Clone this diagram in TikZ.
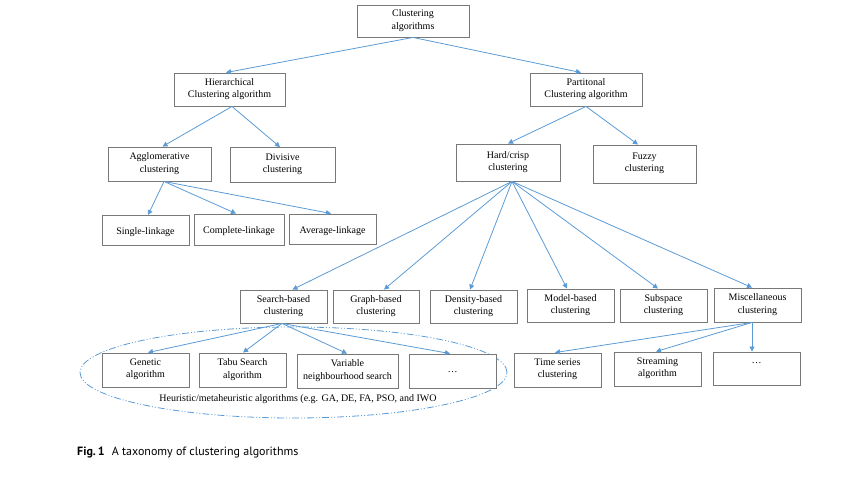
\documentclass[tikz,border=0pt]{standalone}
\usepackage{fontspec}
\setmainfont{Liberation Serif}
\newfontfamily\capfont{PT Sans}
\usetikzlibrary{arrows.meta,shapes.geometric}
\definecolor{arr}{RGB}{91,155,213}
\definecolor{bord}{RGB}{120,120,120}
\tikzset{
  x=1pt,y=-1pt,
  box/.style={draw=bord,line width=0.9pt,fill=white,align=center,inner sep=1pt,
    font=\fontsize{10}{12.3}\selectfont,
    execute at begin node={\rule{0pt}{11.5pt}},
    execute at end node={\rule[-3pt]{0pt}{3pt}}},
  conn/.style={draw=arr,line width=0.8pt,-{Triangle[length=5pt,width=5pt]}},
}
\begin{document}
\begin{tikzpicture}
\useasboundingbox (0,0) rectangle (850,476);
% ellipse
\node[ellipse,draw=arr,line width=0.8pt,minimum width=427pt,minimum height=91pt,inner sep=0pt,
  dash pattern=on 7pt off 2pt on 1pt off 2pt on 1pt off 2pt] (heur) at (293.5,372.5) {};
% level 0
\node[box,minimum width=112pt,minimum height=32pt] (top) at (413,21) {Clustering\\algorithms};
% level 1
\node[box,minimum width=111pt,minimum height=33pt] (hier) at (229.5,89.5) {Hierarchical\\Clustering algorithm};
\node[box,minimum width=112pt,minimum height=33pt] (part) at (586,89.5) {Partitonal\\Clustering algorithm};
% level 2
\node[box,minimum width=103pt,minimum height=34pt] (agg) at (159.5,164) {Agglomerative\\clustering};
\node[box,minimum width=105pt,minimum height=35pt] (div) at (282.5,165) {Divisive\\clustering};
\node[box,minimum width=104pt,minimum height=37pt] (hard) at (508,162.5) {Hard/crisp\\clustering};
\node[box,minimum width=103pt,minimum height=38pt] (fuzzy) at (644.5,164) {Fuzzy\\clustering};
% linkage
\node[box,minimum width=87pt,minimum height=30pt] (single) at (145.5,230.5) {Single-linkage};
\node[box,minimum width=90pt,minimum height=31pt] (complete) at (239,229.5) {Complete-linkage};
\node[box,minimum width=87pt,minimum height=30pt] (average) at (332.5,229) {Average-linkage};
% level 3
\node[box,minimum width=87pt,minimum height=33pt] (search) at (283.5,306.5) {Search-based\\clustering};
\node[box,minimum width=86pt,minimum height=33pt] (graph) at (376,306.5) {Graph-based\\clustering};
\node[box,minimum width=87pt,minimum height=33pt] (density) at (473.5,306.5) {Density-based\\clustering};
\node[box,minimum width=87pt,minimum height=33pt] (model) at (570.5,305.5) {Model-based\\clustering};
\node[box,minimum width=87pt,minimum height=33pt] (subspace) at (663.5,305.5) {Subspace\\clustering};
\node[box,minimum width=87pt,minimum height=34pt] (misc) at (757.5,305) {Miscellaneous\\clustering};
% level 4
\node[box,minimum width=87pt,minimum height=34pt] (genetic) at (145.5,370) {Genetic\\algorithm};
\node[box,minimum width=87pt,minimum height=34pt] (tabu) at (242.5,370) {Tabu Search\\algorithm};
\node[box,minimum width=101pt,minimum height=34pt] (vns) at (347.5,371) {Variable\\neighbourhood search};
\node[box,minimum width=87pt,minimum height=34pt] (dotsA) at (452.5,371) {\raisebox{3pt}{\dots}};
\node[box,minimum width=87pt,minimum height=34pt] (time) at (557.5,370) {Time series\\clustering};
\node[box,minimum width=87pt,minimum height=34pt] (stream) at (657.5,369) {Streaming\\algorithm};
\node[box,minimum width=87pt,minimum height=33pt] (dotsB) at (756.5,368.5) {\raisebox{9pt}{\dots}};
% label and caption
\node[font=\fontsize{10}{12}\selectfont] (heurlab) at (298,399) {Heuristic/metaheuristic algorithms (e.g. GA, DE, FA, PSO, and IWO};
\node[anchor=base west,inner sep=0pt,font=\capfont\fontsize{12}{14}\selectfont] (cap) at (77,455) {\textbf{Fig.\,1}\hspace{0.6em}A taxonomy of clustering algorithms};
% connectors
\draw[conn] (top.south) -- ([xshift=-3.5pt]hier.north);
\draw[conn] (top.south) -- ([xshift=-5pt]part.north);
\draw[conn] ([xshift=2.5pt]hier.south) -- ([xshift=3pt]agg.north);
\draw[conn] ([xshift=2.5pt]hier.south) -- ([xshift=-2.5pt]div.north);
\draw[conn] (part.south) -- ([xshift=0pt]hard.north);
\draw[conn] (part.south) -- ([xshift=-6.5pt]fuzzy.north);
\draw[conn] ([xshift=4.5pt]agg.south) -- ([xshift=2.5pt]single.north);
\draw[conn] ([xshift=4.5pt]agg.south) -- ([xshift=-3pt]complete.north);
\draw[conn] ([xshift=4.5pt]agg.south) -- ([xshift=-1.5pt]average.north);
\coordinate (hs) at ([xshift=4pt]hard.south);
\draw[conn] (hs) -- ([xshift=9pt]search.north);
\draw[conn] (hs) -- ([xshift=8pt]graph.north);
\draw[conn] (hs) -- ([xshift=-3.5pt]density.north);
\draw[conn] (hs) -- ([xshift=-3.5pt]model.north);
\draw[conn] (hs) -- ([xshift=-5.5pt]subspace.north);
\draw[conn] (hs) -- ([xshift=-5.5pt]misc.north);
\coordinate (ss) at ([xshift=-1.5pt]search.south);
\draw[conn] (ss) -- ([xshift=2.5pt]genetic.north);
\draw[conn] (ss) -- ([xshift=0.5pt]tabu.north);
\draw[conn] (ss) -- ([xshift=-0.5pt]vns.north);
\draw[conn] (ss) -- ([xshift=-2.5pt]dotsA.north);
\coordinate (ms) at ([xshift=-5.5pt]misc.south);
\draw[conn] (ms) -- ([xshift=-2.5pt]time.north);
\draw[conn] (ms) -- ([xshift=-1.5pt]stream.north);
\draw[conn] (ms) -- ([xshift=-4.5pt]dotsB.north);
\end{tikzpicture}
\end{document}
